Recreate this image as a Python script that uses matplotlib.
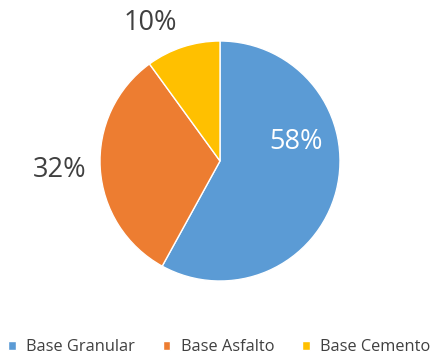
import matplotlib
matplotlib.use("Agg")
import matplotlib.pyplot as plt

categories = ["Base Granular", "Base Asfalto", "Base Cemento"]
values = [58, 32, 10]
colors = ["#5B9BD5", "#ED7D31", "#FFC000"]
label_pos = [(0.633, 0.158), (-1.34, -0.075), (-0.583, 1.15)]
label_colors = ["white", "#404040", "#404040"]

W, H = 439, 356
fig = plt.figure(figsize=(W / 100, H / 100), dpi=100)
cx, cy, r = 220, 161, 120
ax = fig.add_axes([(cx - r) / W, (H - cy - r) / H, 2 * r / W, 2 * r / H])
wedges, texts, autotexts = ax.pie(
    values, colors=colors, startangle=90, counterclock=False,
    autopct="%1.0f%%", radius=1,
    wedgeprops=dict(edgecolor="white", linewidth=1),
)
for t, pos, c in zip(autotexts, label_pos, label_colors):
    t.set_position(pos)
    t.set_color(c)
    t.set_fontsize(19.5)
    t.set_family("Open Sans")
    t.set_ha("center")
    t.set_va("center")
ax.set_xlim(-1, 1)
ax.set_ylim(-1, 1)
ax.set_aspect("equal")
ax.axis("off")

leg = fig.legend(wedges, categories, loc="center", bbox_to_anchor=(0.5, 1 - 347 / H),
                 ncol=3, frameon=False, handlelength=0.45, handleheight=0.45,
                 handletextpad=0.65, columnspacing=1.7,
                 prop=dict(family="Open Sans", size=11.8))
for t in leg.get_texts():
    t.set_color("#404040")

fig.savefig("out.png", dpi=100)
